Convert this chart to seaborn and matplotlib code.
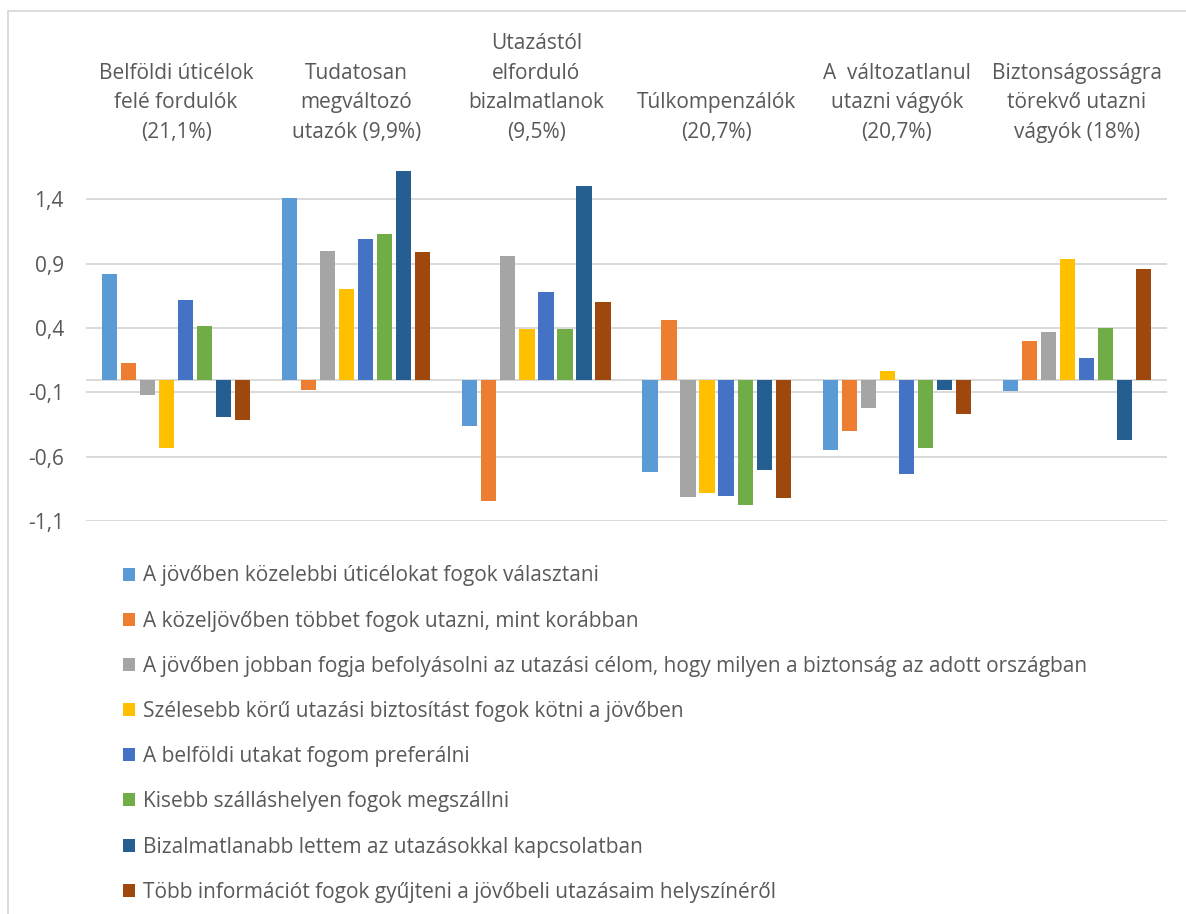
import matplotlib
matplotlib.use("Agg")
import matplotlib.pyplot as plt
import seaborn as sns
import pandas as pd
from matplotlib.patches import Rectangle

# ---------------- data ----------------
categories = [
    "Belföldi úticélok\nfelé fordulók\n(21,1%)",
    "Tudatosan\nmegváltozó\nutazók (9,9%)",
    "Utazástól\nelforduló\nbizalmatlanok\n(9,5%)",
    "Túlkompenzálók\n(20,7%)",
    "A  változatlanul\nutazni vágyók\n(20,7%)",
    "Biztonságosságra\ntörekvő utazni\nvágyók (18%)",
]
series_names = [
    "A jövőben közelebbi úticélokat fogok választani",
    "A közeljövőben többet fogok utazni, mint korábban",
    "A jövőben jobban fogja befolyásolni az utazási célom, hogy milyen a biztonság az adott országban",
    "Szélesebb körű utazási biztosítást fogok kötni a jövőben",
    "A belföldi utakat fogom preferálni",
    "Kisebb szálláshelyen fogok megszállni",
    "Bizalmatlanabb lettem az utazásokkal kapcsolatban",
    "Több információt fogok gyűjteni a jövőbeli utazásaim helyszínéről",
]
s1 = [0.82, 1.41, -0.36, -0.72, -0.55, -0.09]
s2 = [0.13, -0.08, -0.94, 0.46, -0.40, 0.30]
s3 = [-0.12, 1.00, 0.96, -0.91, -0.22, 0.37]
s4 = [-0.53, 0.70, 0.39, -0.88, 0.07, 0.94]
s5 = [0.62, 1.09, 0.68, -0.90, -0.73, 0.17]
s6 = [0.42, 1.13, 0.39, -0.97, -0.53, 0.40]
s7 = [-0.29, 1.62, 1.50, -0.70, -0.08, -0.47]
s8 = [-0.31, 0.99, 0.60, -0.92, -0.27, 0.86]
series_values = [s1, s2, s3, s4, s5, s6, s7, s8]
ytick_values = [1.4, 0.9, 0.4, -0.1, -0.6, -1.1]
ytick_labels = ["1,4", "0,9", "0,4", "-0,1", "-0,6", "-1,1"]

colors = ["#5B9BD5", "#ED7D31", "#A5A5A5", "#FFC000",
          "#4472C4", "#70AD47", "#255E91", "#9E480E"]

rows = []
for name, vals in zip(series_names, series_values):
    for cat, v in zip(categories, vals):
        rows.append({"cat": cat, "series": name, "value": v})
df = pd.DataFrame(rows)

# ---------------- figure ----------------
sns.set_theme(style="white")
plt.rcParams["font.family"] = ["Open Sans", "DejaVu Sans"]
TXT = "#595959"
GRID = "#D9D9D9"
FS = 15

W, H = 1186, 914
fig = plt.figure(figsize=(W / 100, H / 100), dpi=100)

ax_left, ax_right = 86, 1167
ax_top, ax_bottom = 20, 521.3
ax = fig.add_axes([ax_left / W, 1 - ax_bottom / H,
                   (ax_right - ax_left) / W, (ax_bottom - ax_top) / H])

sns.barplot(data=df, x="cat", y="value", hue="series",
            order=categories, hue_order=series_names,
            palette=colors, saturation=1, errorbar=None, width=0.845, gap=0.2,
            linewidth=0, ax=ax, legend=True)

ymin = -1.1
ymax = ymin + (ax_bottom - ax_top) / 128.8
ax.set_ylim(ymin, ymax)
ax.set_xlim(-0.5, len(categories) - 0.5)

ax.set_yticks(ytick_values)
ax.set_yticklabels(ytick_labels)
ax.tick_params(axis="y", length=0, pad=16, labelsize=FS, labelcolor=TXT)
ax.set_xticks([])
ax.set_xlabel("")
ax.set_ylabel("")
for sp in ax.spines.values():
    sp.set_visible(False)
ax.yaxis.grid(True, color=GRID, linewidth=1.4)
ax.set_axisbelow(True)
ax.axhline(0, color=GRID, linewidth=1.4, zorder=0.5)

# category labels at top
baseline_y = (379.6 - 138) / 128.8
for i, cat in enumerate(categories):
    ax.text(i, baseline_y, cat, ha="center", va="baseline",
            multialignment="center", fontsize=FS, color=TXT, linespacing=1.54)

# legend
handles, labels = ax.get_legend_handles_labels()
ax.get_legend().remove()
leg = fig.legend(handles, labels, loc="upper left",
                 bbox_to_anchor=(123 / W, 1 - 565.5 / H),
                 frameon=False, fontsize=FS, ncol=1,
                 handlelength=0.58, handleheight=0.58, handletextpad=0.36,
                 labelspacing=1.16, borderpad=0, borderaxespad=0)
for t in leg.get_texts():
    t.set_color(TXT)

# chart frame border
fig.patches.append(Rectangle((8 / W, -0.1), 1.2, 1 - 11 / H + 0.1,
                             transform=fig.transFigure, fill=False,
                             edgecolor=GRID, linewidth=1.3))

fig.savefig("out.png", dpi=100)
